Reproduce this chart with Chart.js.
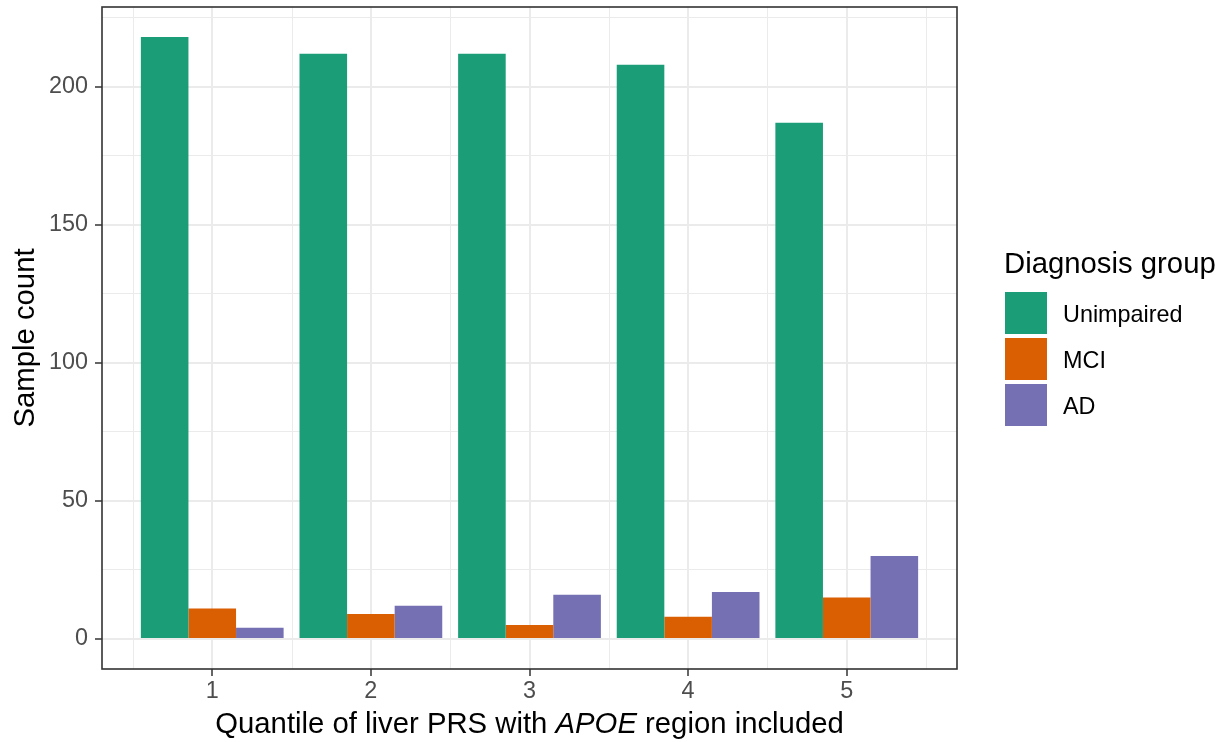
<!DOCTYPE html>
<html>
<head>
<meta charset="utf-8">
<script src="https://cdn.jsdelivr.net/npm/chart.js@4.4.1/dist/chart.umd.min.js"></script>
<style>
  html, body { margin: 0; padding: 0; background: #ffffff; }
  #wrap { width: 1225px; height: 742px; }
</style>
</head>
<body>
<div id="wrap"><canvas id="chart"></canvas></div>
<script>
// sample counts per PRS quantile and diagnosis group
const quantiles = [1, 2, 3, 4, 5];
const groups = ["Unimpaired", "MCI", "AD"];
const unimpaired = [218, 212, 212, 208, 187];
const mci = [11, 9, 5, 8, 15];
const ad = [4, 12, 16, 17, 30];
const yTicks = [0, 25, 50, 75, 100, 125, 150, 175, 200, 225];
const yTitle = "Sample count";
const legendTitle = "Diagnosis group";
// x title pieces: [text, italic]
const xTitleParts = [
  ["Quantile of liver PRS with ", false],
  ["APOE", true],
  [" region included", false],
];

const GROUP_COLORS = ["#1b9e77", "#d95f02", "#7570b3"];
const FONT = "'Liberation Sans', Arial, sans-serif";
const TICK_SIZE = 23.4;
const TITLE_SIZE = 29.3;
const GRID = "#ebebeb";
const INK = "#333333";

// ggplot-like expansion: 5% of the data range, bars are 0.9 wide
const yMaxVal = Math.max(...unimpaired, ...mci, ...ad);
const yMin = -0.05 * yMaxVal;
const yMax = yMaxVal * 1.05;
const xSpan = quantiles[quantiles.length - 1] - quantiles[0] + 0.9;
const xMin = quantiles[0] - 0.45 - 0.05 * xSpan;
const xMax = quantiles[quantiles.length - 1] + 0.45 + 0.05 * xSpan;

const series = [unimpaired, mci, ad];
const datasets = groups.map((g, i) => ({
  label: g,
  data: quantiles.map((q, j) => ({ x: q, y: series[i][j] })),
  backgroundColor: GROUP_COLORS[i],
  borderWidth: 0,
  categoryPercentage: 0.9,
  barPercentage: 1.0,
}));

// minor vertical grid lines halfway between quantiles
const xMinor = [quantiles[0] - 0.5, ...quantiles.map((q) => q + 0.5)];
const minorGrid = {
  id: "minorGrid",
  beforeDatasetsDraw(chart) {
    const { ctx, chartArea: a, scales } = chart;
    ctx.save();
    ctx.strokeStyle = GRID;
    ctx.lineWidth = 1;
    xMinor.forEach((v) => {
      const px = Math.round(scales.x.getPixelForValue(v)) + 0.5;
      ctx.beginPath();
      ctx.moveTo(px, a.top);
      ctx.lineTo(px, a.bottom);
      ctx.stroke();
    });
    ctx.restore();
  },
};

// panel outline drawn over the bars
const panelBorder = {
  id: "panelBorder",
  afterDatasetsDraw(chart) {
    const { ctx, chartArea: a } = chart;
    ctx.save();
    ctx.strokeStyle = INK;
    ctx.lineWidth = 1.6;
    ctx.strokeRect(a.left, a.top, a.right - a.left, a.bottom - a.top);
    ctx.restore();
  },
};

// x title with the gene name in italics
const xTitle = {
  id: "xTitle",
  afterDraw(chart) {
    const { ctx, chartArea: a } = chart;
    ctx.save();
    ctx.fillStyle = "#000000";
    ctx.textBaseline = "alphabetic";
    ctx.textAlign = "left";
    const fontFor = (it) => `${it ? "italic " : ""}${TITLE_SIZE}px ${FONT}`;
    let total = 0;
    xTitleParts.forEach(([t, it]) => {
      ctx.font = fontFor(it);
      total += ctx.measureText(t).width;
    });
    let x = (a.left + a.right) / 2 - total / 2;
    const y = a.bottom + 64;
    xTitleParts.forEach(([t, it]) => {
      ctx.font = fontFor(it);
      ctx.fillText(t, x, y);
      x += ctx.measureText(t).width;
    });
    ctx.restore();
  },
};

// legend on the right: title, square keys, labels
const sideLegend = {
  id: "sideLegend",
  afterDraw(chart) {
    const { ctx, chartArea: a } = chart;
    const mid = (a.top + a.bottom) / 2;
    const lx = a.right + 47;
    ctx.save();
    ctx.textAlign = "left";
    ctx.textBaseline = "alphabetic";
    ctx.fillStyle = "#000000";
    ctx.font = `${TITLE_SIZE}px ${FONT}`;
    ctx.fillText(legendTitle, lx, mid - 65);
    ctx.font = `${TICK_SIZE}px ${FONT}`;
    groups.forEach((g, i) => {
      const top = mid - 46 + i * 46;
      ctx.fillStyle = GROUP_COLORS[i];
      ctx.fillRect(lx + 1, top, 42, 42);
      ctx.fillStyle = "#000000";
      ctx.fillText(g, lx + 59, top + 30);
    });
    ctx.restore();
  },
};

new Chart(document.getElementById("chart"), {
  type: "bar",
  data: { datasets },
  plugins: [minorGrid, panelBorder, xTitle, sideLegend],
  options: {
    responsive: true,
    maintainAspectRatio: false,
    animation: false,
    layout: { padding: { left: 0, top: 7, right: 268, bottom: 0 } },
    scales: {
      x: {
        type: "linear",
        min: xMin,
        max: xMax,
        offset: false,
        afterBuildTicks: (s) => {
          s.ticks = quantiles.map((v) => ({ value: v }));
        },
        afterFit: (s) => {
          s.height = 73;
          s.paddingLeft = 0;
          s.paddingRight = 0;
        },
        grid: {
          offset: false,
          color: GRID,
          lineWidth: 2,
          tickLength: 7,
          tickColor: INK,
          tickWidth: 1.5,
        },
        border: { display: false },
        ticks: {
          color: "#4d4d4d",
          font: { family: FONT, size: TICK_SIZE },
          padding: 2,
          autoSkip: false,
          maxRotation: 0,
        },
      },
      y: {
        min: yMin,
        max: yMax,
        afterBuildTicks: (s) => {
          s.ticks = yTicks.map((v) => ({ value: v }));
        },
        afterFit: (s) => {
          s.width = 102;
          s.paddingTop = 0;
          s.paddingBottom = 0;
        },
        grid: {
          color: GRID,
          lineWidth: (c) => (c.tick && c.tick.value % 50 === 0 ? 2 : 1),
          tickLength: 7,
          tickColor: (c) => (c.tick && c.tick.value % 50 === 0 ? INK : "rgba(0,0,0,0)"),
          tickWidth: 1.5,
        },
        border: { display: false },
        ticks: {
          color: "#4d4d4d",
          font: { family: FONT, size: TICK_SIZE },
          padding: 7,
          autoSkip: false,
          callback: (v) => (v % 50 === 0 ? v : ""),
        },
        title: {
          display: true,
          text: yTitle,
          color: "#000000",
          font: { family: FONT, size: TITLE_SIZE },
          padding: { top: 8, bottom: 0 },
        },
      },
    },
    plugins: {
      legend: { display: false },
      tooltip: { enabled: false },
    },
  },
});
</script>
</body>
</html>
